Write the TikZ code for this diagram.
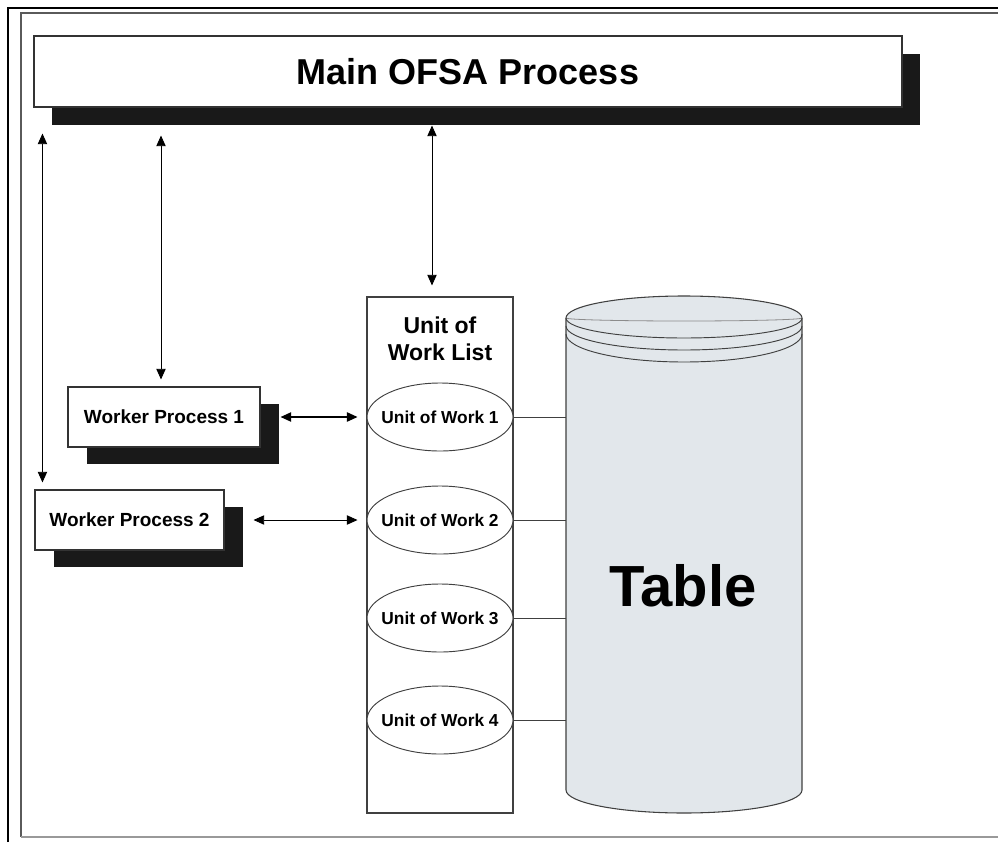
\documentclass[tikz,border=0pt]{standalone}
\usepackage{fontspec}
\setmainfont{Liberation Sans}
\usepackage{xcolor}
\usetikzlibrary{shapes.geometric,shadows,calc,arrows.meta}
\definecolor{tablegray}{RGB}{226,231,235}
\definecolor{framegray}{RGB}{90,90,90}

\begin{document}
\begin{tikzpicture}[x=0.75pt, y=-0.75pt,
  mainbox/.style={draw=black!80, line width=0.8pt, fill=white, inner sep=0pt,
    drop shadow={shadow xshift=13.5pt, shadow yshift=-13.5pt, fill=black!90, opacity=1}},
  workerbox/.style={draw=black!80, line width=0.8pt, fill=white, inner sep=0pt,
    minimum height=45pt, font=\bfseries\fontsize{14.25}{17}\selectfont,
    drop shadow={shadow xshift=14pt, shadow yshift=-12.5pt, fill=black!90, opacity=1}},
  uow/.style={ellipse, draw=black!75, line width=0.7pt, fill=white, inner xsep=-5.5pt, inner ysep=0pt,
    minimum width=109.5pt, minimum height=51pt, font=\bfseries\fontsize{13}{15}\selectfont},
  link/.style={{Triangle[length=8pt,width=7pt]}-{Triangle[length=8pt,width=7pt]}, line width=0.7pt},
  tie/.style={draw=black!75, line width=0.7pt}
]
\useasboundingbox (0,0) rectangle (998,842);
\fill[white] (0,0) rectangle (998,842);

% frame
\draw[line width=2pt] (8,842) -- (8,8) -- (998,8);
\draw[framegray, line width=1.3pt] (998,13) -- (21,13) -- (21,837);
\draw[black!40, line width=1.2pt] (21,837) -- (998,837);

% table cylinder
\filldraw[fill=tablegray, draw=black!75, line width=0.8pt] (566,318) -- (566,790)
  arc[start angle=180, end angle=0, x radius=118, y radius=23] -- (802,318)
  arc[start angle=0, end angle=-180, x radius=118, y radius=22] -- cycle;
\draw[black!45, line width=0.6pt] (566,318) arc[start angle=180, end angle=0, x radius=118, y radius=3];
\draw[black!75, line width=0.7pt] (566,318) arc[start angle=180, end angle=0, x radius=118, y radius=20];
\draw[black!75, line width=0.7pt] (566,326) arc[start angle=180, end angle=0, x radius=118, y radius=24];
\draw[black!75, line width=0.7pt] (566,334) arc[start angle=180, end angle=0, x radius=118, y radius=28];
\node[minimum width=177pt, minimum height=354pt, inner sep=0pt] (tbl) at (684,554) {};
\node[font=\bfseries\fontsize{43.5}{50}\selectfont] (tbltext) at (683,586) {Table};

% processes
\node[mainbox, minimum width=651pt, minimum height=53.25pt,
  font=\bfseries\fontsize{27}{32}\selectfont] (main) at (468,71.5) {Main OFSA Process};
\node[workerbox, minimum width=144pt] (wp1) at (164,417) {Worker Process 1};
\node[workerbox, minimum width=141.75pt] (wp2) at (129.5,520) {Worker Process 2};

% unit of work list
\node[draw=black!75, line width=0.8pt, minimum width=109.5pt, minimum height=387pt] (list) at (440,555) {};
\node[font=\bfseries\fontsize{17.25}{20.25}\selectfont, align=center] (listlabel) at (440,339) {Unit of\\Work List};
\node[uow] (uow1) at (440,417) {Unit of Work 1};
\node[uow] (uow2) at (440,520) {Unit of Work 2};
\node[uow] (uow3) at (440,618) {Unit of Work 3};
\node[uow] (uow4) at (440,720) {Unit of Work 4};

\draw[tie] (uow1.east) -- (uow1.east -| tbl.west);
\draw[tie] (uow2.east) -- (uow2.east -| tbl.west);
\draw[tie] (uow3.east) -- (uow3.east -| tbl.west);
\draw[tie] (uow4.east) -- (uow4.east -| tbl.west);

% arrows
\draw[link] ($(main.south west)+(9,26)$) -- ($(wp2.north west)+(8,-7)$);
\draw[link] ($(wp1.north |- main.south)+(-3,28)$) -- ($(wp1.north)+(-3,-7)$);
\draw[link] ($(list.north |- main.south)+(-8,18)$) -- ($(list.north)+(-8,-11)$);
\draw[link, line width=1.1pt] ($(wp1.east)+(20,0)$) -- ($(uow1.west)+(-9,0)$);
\draw[link] ($(wp2.east)+(29,0)$) -- ($(uow2.west)+(-9,0)$);
\end{tikzpicture}
\end{document}
